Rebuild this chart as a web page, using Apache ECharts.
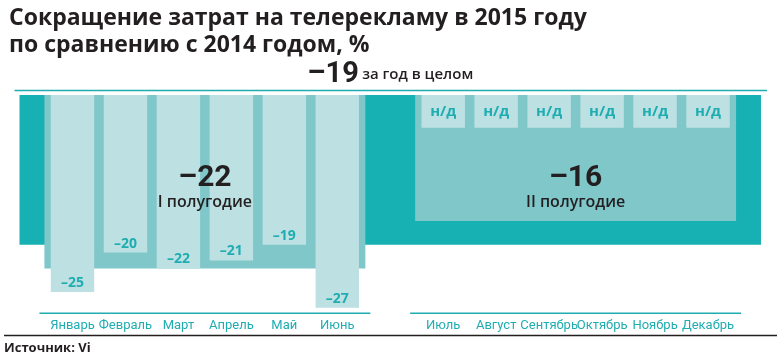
<!DOCTYPE html>
<html><head><meta charset="utf-8">
<script src="https://cdn.jsdelivr.net/npm/echarts@6/dist/echarts.min.js"></script>
<style>html,body{margin:0;padding:0;background:#fff}#c{width:781px;height:361px}</style>
</head><body><div id="c"></div>
<script>
// ---- data ----
const titleLines = ['Сокращение затрат на телерекламу в 2015 году', 'по сравнению с 2014 годом, %'];
const months = ['Январь','Февраль','Март','Апрель','Май','Июнь','','Июль','Август','Сентябрь','Октябрь','Ноябрь','Декабрь'];
const monthValues = [-25, -20, -22, -21, -19, -27, null, null, null, null, null, null, null];
const naBoxValues = [null, null, null, null, null, null, null, -4.15, -4.15, -4.15, -4.15, -4.15, -4.15];
const naText = 'н/д';
const halfNames = ['I полугодие', 'II полугодие'];
const halfValues = [-22, -16];
const halfRanges = [[0, 5], [7, 12]];
const yearValue = -19;
const yearText = 'за год в целом';
const sourceText = 'Источник: Vi';
const yMin = -27.7;

// ---- styles ----
const C = {dark:'#17b0b3', mid:'#80c7ca', light:'#bde1e3', teal:'#1fadb1', ink:'#231f20'};
const FF = 'Roboto, "Liberation Sans", sans-serif';
const FW = '"Open Sans", Roboto, sans-serif';
const fmt = v => '–' + Math.abs(v);

const chart = echarts.init(document.getElementById('c'), null, {renderer: 'canvas'});

const halfData = halfRanges.map((r, i) => [r[0], r[1], halfValues[i]]);

chart.setOption({
  animation: false,
  title: {
    text: titleLines.join('\n'), left: 4, top: 0,
    textStyle: {fontSize: 23, fontWeight: 'bold', color: C.ink, lineHeight: 27, fontFamily: FW}
  },
  grid: {left: 46, right: 46.5, top: 95, bottom: 47.7, containLabel: false},
  xAxis: {
    type: 'category', data: months, boundaryGap: true,
    axisLine: {show: false}, axisTick: {show: false}, splitLine: {show: false},
    axisLabel: {interval: 0, color: C.teal, fontSize: 13, margin: 6, fontFamily: FF}
  },
  yAxis: {type: 'value', min: yMin, max: 0, show: false, splitLine: {show: false}},
  graphic: [
    {type: 'line', shape: {x1: 4, y1: 335.5, x2: 777, y2: 335.5}, style: {stroke: '#231f20', lineWidth: 1.5}},
    {type: 'text', left: 4, top: 342, style: {text: sourceText, fill: C.ink, font: 'bold 13px ' + FW}}
  ],
  series: [
    {
      type: 'custom', z: 1, data: [[0, yearValue]],
      renderItem: (params, api) => {
        const slot = api.size([1, 0])[0];
        const p0 = api.coord([0, 0]);
        const p1 = api.coord([months.length - 1, api.value(1)]);
        const x0 = p0[0] - slot, x1 = p1[0] + slot;
        return {type: 'group', children: [
          {type: 'rect', shape: {x: x0, y: p0[1], width: x1 - x0, height: p1[1] - p0[1]}, style: {fill: C.dark}},
          {type: 'line', shape: {x1: x0 - 5, y1: p0[1] - 4.5, x2: x1 + 6, y2: p0[1] - 4.5}, style: {stroke: C.teal, lineWidth: 1.5}},
          {type: 'text', x: (x0 + x1) / 2, y: p0[1] - 6, style: {
            text: '{a|' + fmt(api.value(1)) + '} {b|' + yearText + '}',
            align: 'center', verticalAlign: 'bottom',
            rich: {
              a: {font: 'bold 29px ' + FF, fill: C.ink},
              b: {font: '600 15px ' + FW, fill: C.ink}
            }
          }}
        ]};
      }
    },
    {
      type: 'custom', z: 2, data: halfData, encode: {x: [0, 1], y: 2},
      renderItem: (params, api) => {
        const slot = api.size([1, 0])[0];
        const pa = api.coord([api.value(0), 0]);
        const pb = api.coord([api.value(1), api.value(2)]);
        const base = api.coord([api.value(0), yMin]);
        const x0 = pa[0] - slot * 0.53, x1 = pb[0] + slot * 0.53;
        return {type: 'group', children: [
          {type: 'rect', shape: {x: x0, y: pa[1], width: x1 - x0, height: pb[1] - pa[1]}, style: {fill: C.mid}},
          {type: 'line', shape: {x1: x0 - 5, y1: base[1], x2: x1 + 5, y2: base[1]}, style: {stroke: C.teal, lineWidth: 1.5}}
        ]};
      }
    },
    {
      type: 'bar', z: 3, data: monthValues, barWidth: '82%', barGap: '-100%',
      itemStyle: {color: C.light},
      label: {show: true, position: 'insideBottom', distance: 2,
        formatter: p => fmt(p.value), color: C.teal, fontWeight: 'bold', fontSize: 14, fontFamily: FW}
    },
    {
      type: 'bar', z: 3, data: naBoxValues, barWidth: '82%', barGap: '-100%',
      itemStyle: {color: C.light},
      label: {show: true, position: 'inside', formatter: naText,
        color: C.teal, fontWeight: 'bold', fontSize: 15, fontFamily: FW}
    },
    {
      type: 'custom', z: 5, data: halfData, encode: {x: [0, 1], y: 2},
      renderItem: (params, api) => {
        const pa = api.coord([api.value(0), 0]);
        const pb = api.coord([api.value(1), api.value(2)]);
        const cx = (pa[0] + pb[0]) / 2;
        return {type: 'group', children: [
          {type: 'text', x: cx, y: pa[1] + 83, style: {text: fmt(api.value(2)), align: 'center', verticalAlign: 'middle',
            font: 'bold 30px ' + FF, fill: C.ink}},
          {type: 'text', x: cx, y: pa[1] + 107, style: {text: halfNames[params.dataIndex], align: 'center', verticalAlign: 'middle',
            font: '600 16px ' + FW, fill: C.ink}}
        ]};
      }
    }
  ]
});
</script>
</body></html>
